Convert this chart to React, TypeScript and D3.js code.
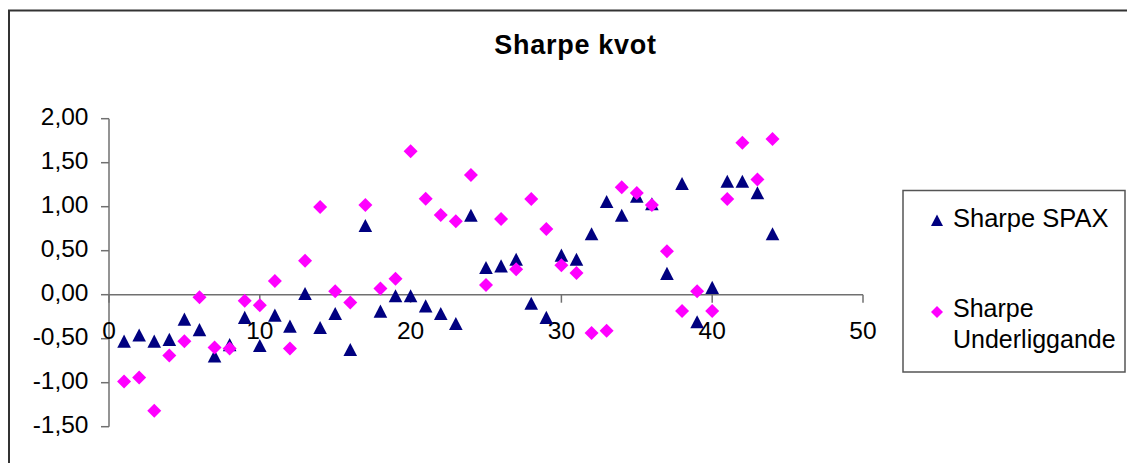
import React from "react";
import * as d3 from "d3";

const xValues = [1,2,3,4,5,6,7,8,9,10,11,12,13,14,15,16,17,18,19,20,21,22,23,24,25,26,27,28,29,30,31,32,33,34,35,36,37,38,39,40,41,42,43,44];
const sharpeSpax = [-0.53,-0.46,-0.53,-0.51,-0.28,-0.40,-0.70,-0.57,-0.26,-0.58,-0.235,-0.36,0.01,-0.375,-0.216,-0.625,0.784,-0.19,-0.015,-0.015,-0.13,-0.216,-0.33,0.90,0.307,0.325,0.40,-0.10,-0.26,0.447,0.40,0.69,1.057,0.90,1.117,1.03,0.24,1.26,-0.31,0.08,1.287,1.287,1.155,0.69];
const sharpeUnder = [-0.985,-0.94,-1.32,-0.69,-0.53,-0.03,-0.60,-0.61,-0.07,-0.12,0.155,-0.61,0.386,0.996,0.04,-0.09,1.02,0.07,0.18,1.63,1.09,0.905,0.836,1.36,0.11,0.86,0.29,1.087,0.746,0.336,0.246,-0.436,-0.41,1.22,1.155,1.02,0.495,-0.186,0.04,-0.186,1.087,1.727,1.31,1.77];
const xTicks = [0,10,20,30,40,50];
const yTicks = [-1.5,-1.0,-0.5,0,0.5,1.0,1.5,2.0];
const seriesNames = ["Sharpe SPAX", "Sharpe", "Underliggande"];
const title = "Sharpe kvot";

const FONT = "'Liberation Sans', Arial, sans-serif";

export default function App() {
  const x = d3.scaleLinear().domain([0, 50]).range([109, 863]);
  const y = d3.scaleLinear().domain([-1.5, 2]).range([426.7, 118.7]);
  const fmt = (v: number) => d3.format(".2f")(v).replace(".", ",").replace("−", "-");
  const tri = (cx: number, cy: number, s = 6.8) =>
    `M${cx},${cy - s}L${cx + s},${cy + s - 0.5}L${cx - s},${cy + s - 0.5}Z`;
  const dia = (cx: number, cy: number, s = 7) =>
    `M${cx},${cy - s}L${cx + s},${cy}L${cx},${cy + s}L${cx - s},${cy}Z`;
  const axisColor = "#707070";
  const y0 = y(0);
  return (
    <svg width={1127} height={463} style={{ position: "absolute", left: 0, top: 0, background: "#fff" }} fontFamily={FONT}>
      <rect x={0} y={0} width={1127} height={463} fill="#fff" />
      <rect x={9} y={10.5} width={1130} height={470} fill="none" stroke="#333" strokeWidth={2} />
      <text x={575.5} y={54} textAnchor="middle" fontSize={27} fontWeight="bold" letterSpacing={0.7} fill="#000">{title}</text>
      {/* y axis */}
      <line x1={x(0)} x2={x(0)} y1={y(2)} y2={y(-1.5)} stroke={axisColor} strokeWidth={1.5} />
      {yTicks.map((t) => (
        <g key={"y" + t}>
          <line x1={x(0) - 8} x2={x(0)} y1={y(t)} y2={y(t)} stroke={axisColor} strokeWidth={1.5} />
          <text x={88.5} y={y(t) + 6} textAnchor="end" fontSize={24.5} fill="#000">{fmt(t)}</text>
        </g>
      ))}
      {/* x axis */}
      <line x1={x(0)} x2={x(50)} y1={y0} y2={y0} stroke={axisColor} strokeWidth={1.5} />
      {xTicks.map((t) => (
        <g key={"x" + t}>
          <line x1={x(t)} x2={x(t)} y1={y0} y2={y0 + 8} stroke={axisColor} strokeWidth={1.5} />
          <text x={x(t)} y={339} textAnchor="middle" fontSize={24.5} fill="#000">{t}</text>
        </g>
      ))}
      {/* series */}
      {xValues.map((v, i) => (
        <path key={"s" + i} d={tri(x(v), y(sharpeSpax[i]))} fill="#000080" />
      ))}
      {xValues.map((v, i) => (
        <path key={"u" + i} d={dia(x(v), y(sharpeUnder[i]))} fill="#FF00FF" />
      ))}
      {/* legend */}
      <rect x={903} y={190.5} width={222} height={181.5} fill="#fff" stroke="#555" strokeWidth={1.5} />
      <path d={tri(937, 220.5, 6)} fill="#000080" />
      <text x={953} y={227} fontSize={25.5} fill="#000">{seriesNames[0]}</text>
      <path d={dia(937, 312, 6)} fill="#FF00FF" />
      <text x={953} y={317} fontSize={25} fill="#000">{seriesNames[1]}</text>
      <text x={953} y={348} fontSize={25} fill="#000">{seriesNames[2]}</text>
    </svg>
  );
}
